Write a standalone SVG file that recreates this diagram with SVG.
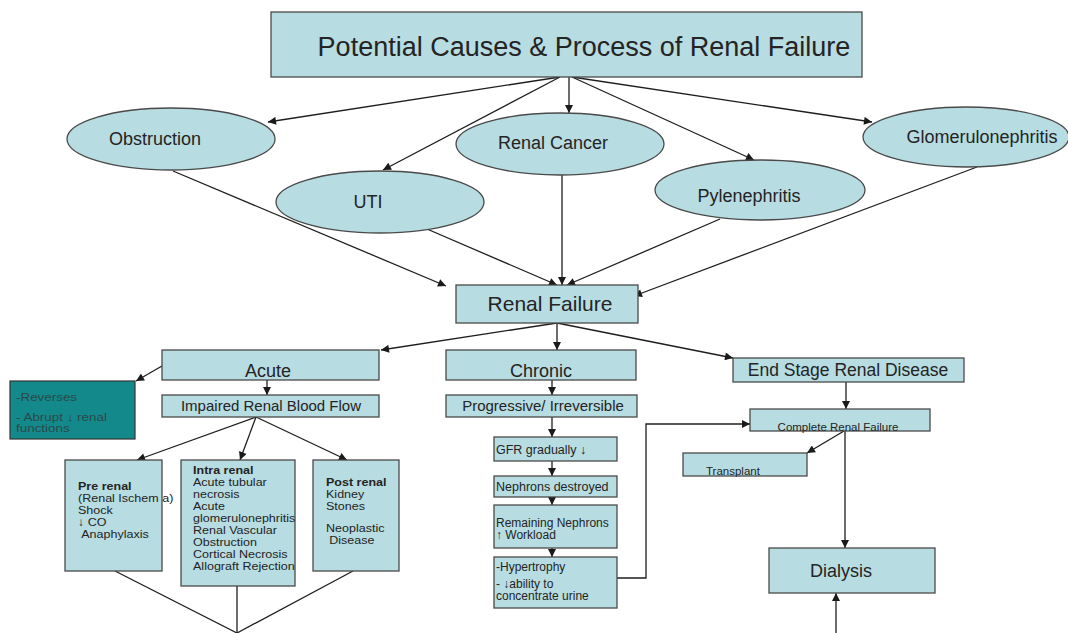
<svg xmlns="http://www.w3.org/2000/svg" width="1068" height="633" viewBox="0 0 1068 633">
<defs>
<marker id="ah" viewBox="0 0 10 10" refX="10" refY="5" markerWidth="9" markerHeight="8" markerUnits="userSpaceOnUse" orient="auto">
<path d="M0,0 L10,5 L0,10 z" fill="#1a1a1a"/>
</marker>
<style>
.box{fill:#b7dce1;stroke:#4a4a4a;stroke-width:1.3}
.teal{fill:#13898b;stroke:#333;stroke-width:1.2}
.t{font-family:"Liberation Sans",Arial,sans-serif;fill:#242424}
.tt{font-family:"Liberation Sans",Arial,sans-serif;fill:#2b4a4a;font-size:11px}
.s{font-size:11.5px}
.c{text-anchor:middle}
.b{font-weight:bold}
.ln{fill:none;stroke:#1e1e1e;stroke-width:1.3}
.arr{marker-end:url(#ah)}
</style>
</defs>
<rect width="1068" height="633" fill="#ffffff"/>

<g id="connectors">
<line class="ln arr" x1="560" y1="77" x2="268" y2="122"/>
<line class="ln arr" x1="560" y1="77" x2="383" y2="170"/>
<line class="ln arr" x1="569" y1="77" x2="569" y2="113"/>
<line class="ln arr" x1="572" y1="77" x2="754" y2="160"/>
<line class="ln arr" x1="572" y1="77" x2="872" y2="122"/>
<line class="ln arr" x1="173" y1="171" x2="446" y2="286"/>
<line class="ln arr" x1="427" y1="229" x2="557" y2="285"/>
<line class="ln arr" x1="562" y1="175" x2="562" y2="285"/>
<line class="ln arr" x1="720" y1="219" x2="567" y2="285"/>
<line class="ln arr" x1="977" y1="167" x2="634" y2="296"/>
<line class="ln arr" x1="557" y1="323" x2="381" y2="350"/>
<line class="ln arr" x1="557" y1="323" x2="557" y2="350"/>
<line class="ln arr" x1="557" y1="323" x2="733" y2="358"/>
<line class="ln arr" x1="162" y1="366" x2="136" y2="381"/>
<line class="ln arr" x1="267" y1="380" x2="267" y2="395"/>
<line class="ln arr" x1="256" y1="417" x2="137" y2="460"/>
<line class="ln arr" x1="256" y1="417" x2="240" y2="460"/>
<line class="ln arr" x1="256" y1="417" x2="347" y2="460"/>
<line class="ln" x1="115" y1="571" x2="237" y2="633"/>
<line class="ln" x1="237" y1="586" x2="237" y2="633"/>
<line class="ln" x1="353" y1="571" x2="237" y2="633"/>
<line class="ln arr" x1="552" y1="380" x2="552" y2="395"/>
<line class="ln arr" x1="552" y1="417" x2="552" y2="437"/>
<line class="ln arr" x1="552" y1="461" x2="552" y2="476"/>
<line class="ln arr" x1="552" y1="497" x2="552" y2="505"/>
<line class="ln arr" x1="552" y1="548" x2="552" y2="557"/>
<polyline class="ln arr" points="617,578 646,578 646,424 750,424"/>
<line class="ln arr" x1="846" y1="382" x2="846" y2="409"/>
<line class="ln arr" x1="844" y1="431" x2="807" y2="453"/>
<line class="ln arr" x1="845" y1="431" x2="845" y2="548"/>
<line class="ln arr" x1="836" y1="633" x2="836" y2="593"/>
</g>

<g id="title">
<rect class="box" x="271" y="12" width="591" height="65"/>
<text class="t c" x="584" y="56" font-size="27">Potential Causes &amp; Process of Renal Failure</text>
</g>

<g id="obstruction">
<ellipse class="box" cx="171" cy="139" rx="104" ry="31"/>
<text class="t c" x="155" y="145" font-size="18">Obstruction</text>
</g>
<g id="uti">
<ellipse class="box" cx="380" cy="202" rx="104" ry="31"/>
<text class="t c" x="368" y="208" font-size="18">UTI</text>
</g>
<g id="renal-cancer">
<ellipse class="box" cx="560" cy="144" rx="104" ry="31"/>
<text class="t c" x="553" y="149" font-size="18">Renal Cancer</text>
</g>
<g id="pylenephritis">
<ellipse class="box" cx="760" cy="190" rx="105" ry="30"/>
<text class="t c" x="749" y="202" font-size="18">Pylenephritis</text>
</g>
<g id="glomerulonephritis">
<ellipse class="box" cx="966" cy="137" rx="103" ry="30"/>
<text class="t c" x="982" y="143" font-size="18">Glomerulonephritis</text>
</g>

<g id="renal-failure">
<rect class="box" x="456" y="285" width="182" height="38"/>
<text class="t c" x="550" y="311" font-size="21">Renal Failure</text>
</g>

<g id="acute">
<rect class="box" x="162" y="350" width="217" height="30"/>
<text class="t c" x="268" y="377" font-size="18">Acute</text>
</g>
<g id="reverses">
<rect class="teal" x="10" y="381" width="125" height="58"/>
<g transform="translate(16 0) scale(1.22 1)">
<text class="tt" x="0" y="401">-Reverses</text>
<text class="tt" x="0" y="421">- Abrupt ↓ renal</text>
<text class="tt" x="0" y="432">functions</text>
</g>
</g>
<g id="chronic">
<rect class="box" x="446" y="350" width="190" height="30"/>
<text class="t c" x="541" y="377" font-size="18">Chronic</text>
</g>
<g id="esrd">
<rect class="box" x="733" y="358" width="231" height="24"/>
<text class="t c" x="848" y="376" font-size="17.5">End Stage Renal Disease</text>
</g>

<g id="impaired">
<rect class="box" x="162" y="395" width="217" height="22"/>
<text class="t c" x="271" y="411" font-size="15">Impaired Renal Blood Flow</text>
</g>
<g id="progressive">
<rect class="box" x="446" y="395" width="191" height="22"/>
<text class="t c" x="543" y="411" font-size="15">Progressive/ Irreversible</text>
</g>

<g id="pre-renal">
<rect class="box" x="65" y="460" width="97" height="111"/>
<g transform="translate(78 0) scale(1.09 1)">
<text class="t s b" x="0" y="490">Pre renal</text>
<text class="t s" x="0" y="502">(Renal Ischem a)</text>
<text class="t s" x="0" y="514">Shock</text>
<text class="t s" x="0" y="526">↓ CO</text>
<text class="t s" x="3" y="538">Anaphylaxis</text>
</g>
</g>
<g id="intra-renal">
<rect class="box" x="181" y="460" width="114" height="126"/>
<g transform="translate(193 0) scale(1.09 1)">
<text class="t s b" x="0" y="474">Intra renal</text>
<text class="t s" x="0" y="486">Acute tubular</text>
<text class="t s" x="0" y="498">necrosis</text>
<text class="t s" x="0" y="510">Acute</text>
<text class="t s" x="0" y="522">glomerulonephritis</text>
<text class="t s" x="0" y="534">Renal Vascular</text>
<text class="t s" x="0" y="546">Obstruction</text>
<text class="t s" x="0" y="558">Cortical Necrosis</text>
<text class="t s" x="0" y="570">Allograft Rejection</text>
</g>
</g>
<g id="post-renal">
<rect class="box" x="313" y="460" width="86" height="111"/>
<g transform="translate(326 0) scale(1.09 1)">
<text class="t s b" x="0" y="486">Post renal</text>
<text class="t s" x="0" y="498">Kidney</text>
<text class="t s" x="0" y="510">Stones</text>
<text class="t s" x="0" y="532">Neoplastic</text>
<text class="t s" x="3" y="544">Disease</text>
</g>
</g>

<g id="gfr">
<rect class="box" x="494" y="437" width="123" height="24"/>
<text class="t" x="496" y="454" font-size="12.5">GFR gradually ↓</text>
</g>
<g id="nephrons">
<rect class="box" x="494" y="476" width="123" height="21"/>
<text class="t" x="496" y="491" font-size="12.5">Nephrons destroyed</text>
</g>
<g id="remaining">
<rect class="box" x="494" y="505" width="123" height="43"/>
<text class="t" x="496" y="527" font-size="12">Remaining Nephrons</text>
<text class="t" x="496" y="539" font-size="12">↑ Workload</text>
</g>
<g id="hypertrophy">
<rect class="box" x="494" y="557" width="123" height="51"/>
<text class="t" x="496" y="571" font-size="12">-Hypertrophy</text>
<text class="t" x="496" y="588" font-size="12">- ↓ability to</text>
<text class="t" x="496" y="600" font-size="12">concentrate urine</text>
</g>

<g id="complete-renal-failure">
<rect class="box" x="750" y="409" width="180" height="22"/>
<text class="t c" x="838" y="431" font-size="11.5">Complete Renal Failure</text>
</g>
<g id="transplant">
<rect class="box" x="683" y="453" width="124" height="23"/>
<text class="t" x="706" y="475" font-size="11.5">Transplant</text>
</g>
<g id="dialysis">
<rect class="box" x="769" y="548" width="166" height="45"/>
<text class="t" x="810" y="577" font-size="18">Dialysis</text>
</g>
</svg>
